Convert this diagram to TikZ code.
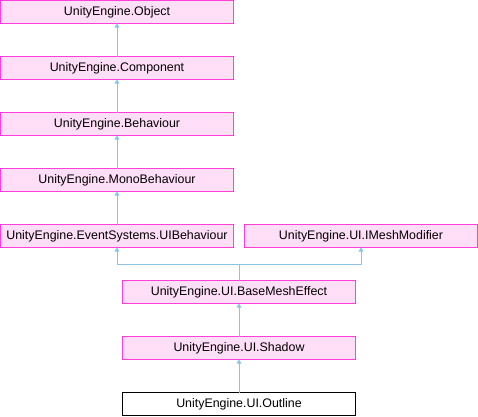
\documentclass[tikz,border=0pt]{standalone}
\usepackage{fontspec}
\setmainfont{Liberation Sans}
\usepackage{xcolor}
\usetikzlibrary{
arrows.meta,
positioning,
calc
}
\definecolor{boxfill}{RGB}{255,222,247}
\definecolor{boxline}{RGB}{255,64,216}
\definecolor{edgeblue}{RGB}{140,196,230}

\begin{document}
\begin{tikzpicture}[
    >={Triangle[length=4pt,width=5pt]},
    node distance=33pt,
    every node/.style={draw, rectangle, minimum width=233pt, minimum height=23pt,
      inner sep=0pt, outer sep=0pt, line width=1pt,
      font=\fontsize{12.4pt}{14pt}\selectfont},
    cls/.style={draw=boxline, fill=boxfill},
    leaf/.style={draw=black, fill=white},
    inh/.style={->, color=edgeblue, line width=1pt}]
  \useasboundingbox (0,0) rectangle (478pt,-416pt);
  \node[cls] (Obj) at (117pt,-12pt) {UnityEngine.Object};
  \node[cls, below=of Obj] (Comp) {UnityEngine.Component};
  \node[cls, below=of Comp] (Beh) {UnityEngine.Behaviour};
  \node[cls, below=of Beh] (Mono) {UnityEngine.MonoBehaviour};
  \node[cls, below=of Mono] (UIB) {UnityEngine.EventSystems.UIBehaviour};
  \node[cls, right=11pt of UIB] (IMM) {UnityEngine.UI.IMeshModifier};
  \coordinate (mid) at ($(UIB.south)!0.5!(IMM.south)$);
  \coordinate (J) at ($(mid)+(0,-17pt)$);
  \node[cls, below=of mid] (BME) {UnityEngine.UI.BaseMeshEffect};
  \node[cls, below=of BME] (Sh) {UnityEngine.UI.Shadow};
  \node[leaf, below=of Sh] (Out) {UnityEngine.UI.Outline};
  \draw[inh]
      (Comp) edge (Obj)
      (Beh) edge (Comp)
      (Mono) edge (Beh)
      (UIB) edge (Mono)
      (Sh) edge (BME)
      (Out) edge (Sh);
  \draw[color=edgeblue, line width=1pt] (BME.north) -- (J);
  \draw[inh] (J) -| (UIB.south);
  \draw[inh] (J) -| (IMM.south);
\end{tikzpicture}
\end{document}
